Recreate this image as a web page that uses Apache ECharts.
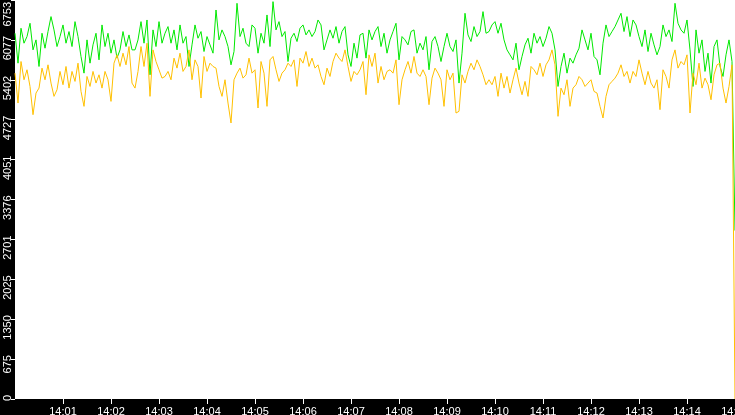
<!DOCTYPE html>
<html lang="en">
<head>
    <meta charset="UTF-8">
    <title>Throughput 14:00 - 14:15</title>
    <script src="https://cdn.jsdelivr.net/npm/echarts@6/dist/echarts.min.js"></script>
    <style>
        html, body { margin: 0; padding: 0; background: #000; }
        #chart { width: 735px; height: 415px; }
    </style>
</head>
<body>
    <div id="chart"></div>
    <script>
        // one sample every 3.75 s, 14:00:00 .. 14:15:00
        const sampleStep = 3.75;

        const greenValues = [
            6190,5684,6275,6022,6134,6359,5909,6078,5628,6190,5937,6219,6472,6247,5965,6134,6331,6022,6219,5965,6387,6134,5797,5515,6078,5684,5994,6190,5740,6331,5965,6190,5853,6078,5769,5909,6219,5965,6162,5909,
            5909,6078,6387,6022,6415,5487,6247,5965,6387,6022,6190,6303,6022,6247,5909,6331,6022,6134,5628,5994,6331,6106,6219,5881,6134,5994,5853,6584,6078,6247,6134,5965,5656,5881,6697,6134,6275,6022,5965,6331,
            6275,5853,6190,6022,6500,5965,6725,6247,6387,6134,6219,5712,6106,6190,6050,6275,6331,6162,6247,6134,6219,6415,6331,5909,6078,6247,6106,6303,6022,6219,6303,5825,5628,6022,5769,6162,6190,5769,6247,6078,
            6219,6303,5965,6190,5853,6078,6219,6359,5740,6134,6078,5994,6219,6247,5853,6022,5909,6134,5572,6050,6134,5965,5712,5965,6190,5965,5881,6078,5347,5853,6528,6162,6050,6303,6134,6219,6556,6190,6219,6331,
            6387,6190,6359,6078,5909,5825,5740,6022,5572,5797,5994,6106,5853,6190,6022,6134,5965,6106,6303,6190,5909,5290,5628,5853,5515,5769,5684,5825,5937,6247,6078,5909,6190,5797,5740,5487,6022,6331,6134,6219,
            6303,6415,6528,6219,6472,6134,6415,6331,6134,5965,6247,5881,6190,5994,5825,5965,6331,6134,6247,6050,6697,6359,6247,6190,6415,5909,5290,6247,5853,6078,5544,5853,5347,5965,6078,5628,5459,5825,6078,5712,
            2850
        ];

        const yellowValues = [
            5515,5009,5712,5403,5572,5290,4812,5178,5262,5600,5403,5656,5347,5122,5234,5544,5319,5628,5262,5544,5375,5684,5206,4953,5459,5290,5544,5347,5487,5262,5544,5403,5037,5684,5825,5628,5853,5656,5965,5347,
            5262,5544,5965,5628,6022,5122,5909,5712,5572,5431,5459,5544,5403,5769,5600,5853,5544,5628,5909,5403,5740,5628,5094,5797,5544,5684,5628,5600,5290,5122,5403,5009,4672,5403,5515,5600,5431,5487,5769,5515,
            5572,4925,5712,5515,4953,5740,5797,5572,5375,5515,5572,5684,5628,5740,5290,5769,5684,5881,5628,5769,5600,5656,5459,5319,5600,5459,5712,5853,5769,5712,5909,5628,5375,5544,5487,5572,5712,5150,5825,5628,
            5853,5347,5628,5403,5544,5572,5515,5740,4981,5403,5572,5712,5515,5797,5515,5459,5572,5459,4981,5431,5600,5515,5403,4953,5572,5403,5515,4840,4869,5487,5347,5544,5684,5572,5740,5628,5487,5319,5403,5319,
            5459,5122,5515,5262,5459,5178,5403,5600,5347,5150,5375,5122,5628,5572,5487,5684,5459,5656,5740,5909,5656,4784,5262,5150,5403,4953,5262,5319,5459,5403,5290,5347,5403,5206,5178,4953,4756,5122,5319,5375,
            5431,5515,5656,5459,5544,5347,5544,5459,5740,5515,5319,5544,5347,5262,5403,4897,5572,5459,5262,5740,5909,5600,5712,5656,5825,4840,5515,5319,5684,5262,5431,5319,5065,5487,5656,5684,5262,5009,5290,5656,
            0
        ];

        const xLabels = ['14:00', '14:01', '14:02', '14:03', '14:04', '14:05', '14:06', '14:07',
                         '14:08', '14:09', '14:10', '14:11', '14:12', '14:13', '14:14', '14:15'];
        const yLabels = ['0', '675', '1350', '2025', '2701', '3376', '4051', '4727', '5402', '6077', '6753'];

        const yMax = 6753;
        const yStep = yMax / 10;
        const xTicks = xLabels.map((_, i) => i * 60).slice(1);

        const toPairs = (arr) => arr.map((v, i) => [i * sampleStep, v]);

        const chart = echarts.init(document.getElementById('chart'));
        chart.setOption({
            animation: false,
            backgroundColor: '#000',
            grid: {
                left: 15, right: 0, top: 0, bottom: 16,
                outerBoundsMode: 'none',
                containLabel: false,
                show: true, backgroundColor: '#fff', borderWidth: 0
            },
            xAxis: {
                type: 'value',
                min: 0,
                max: 900,
                interval: 60,
                axisLine: { show: false },
                splitLine: { show: false },
                axisTick: {
                    show: true, length: 5, customValues: xTicks,
                    lineStyle: { color: '#fff', width: 1 }
                },
                axisLabel: {
                    customValues: xTicks,
                    color: '#fff',
                    fontSize: 11,
                    fontFamily: 'Liberation Sans',
                    margin: 7,
                    hideOverlap: false,
                    formatter: (v) => xLabels[Math.round(v / 60)]
                }
            },
            yAxis: {
                type: 'value',
                min: 0,
                max: yMax,
                interval: yStep,
                axisLine: { show: false },
                splitLine: { show: false },
                axisTick: { show: true, length: 4, lineStyle: { color: '#fff', width: 1 } },
                axisLabel: {
                    color: '#fff',
                    fontSize: 11,
                    fontFamily: 'Liberation Sans',
                    rotate: 90,
                    align: 'right',
                    margin: 2,
                    padding: [0, -4, 0, 0],
                    showMinLabel: true,
                    showMaxLabel: true,
                    formatter: (v) => {
                        const idx = Math.round(v / yStep);
                        return idx === 10 ? '{top|' + yLabels[idx] + '}' : yLabels[idx];
                    },
                    rich: {
                        top: { color: '#fff', fontSize: 11, fontFamily: 'Liberation Sans', padding: [0, 6, 0, 0] }
                    }
                }
            },
            series: [
                {
                    name: 'green',
                    type: 'line',
                    data: toPairs(greenValues),
                    showSymbol: false,
                    lineStyle: { color: '#00e800', width: 1 }
                },
                {
                    name: 'yellow',
                    type: 'line',
                    data: toPairs(yellowValues),
                    showSymbol: false,
                    lineStyle: { color: '#ffc000', width: 1 }
                }
            ]
        });
    </script>
</body>
</html>
